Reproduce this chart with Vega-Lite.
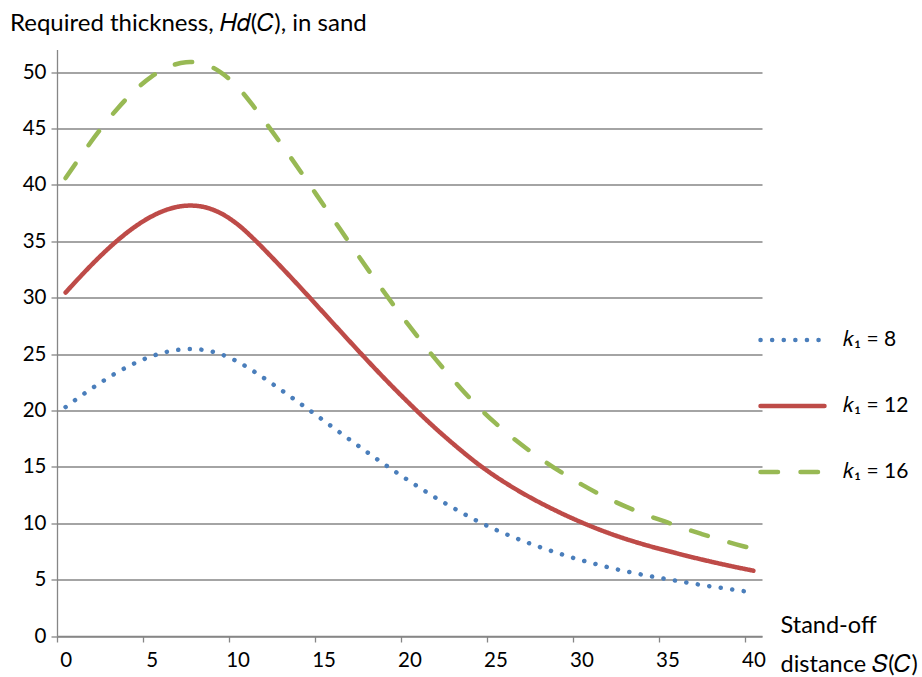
{
  "$schema": "https://vega.github.io/schema/vega-lite/v6.json",
  "autosize": "none",
  "padding": {"left": 57, "top": 49.5, "right": 160, "bottom": 41},
  "width": 705,
  "height": 586.5,
  "config": {"view": {"stroke": null}, "font": "Lato"},
  "title": {"text": "Required thickness, \uD835\uDC3B\uD835\uDC51(\uD835\uDC36), in sand", "anchor": "start", "frame": "group", "dx": -47, "offset": 14, "fontSize": 24, "fontWeight": "normal", "font": "Lato", "color": "#000000"},
  "data": {"values": [
    {"s":0,"k":8,"h":20.3},{"s":1,"k":8,"h":21.4},{"s":2,"k":8,"h":22.43},{"s":3,"k":8,"h":23.37},{"s":4,"k":8,"h":24.17},{"s":5,"k":8,"h":24.8},{"s":6,"k":8,"h":25.23},{"s":7,"k":8,"h":25.43},{"s":8,"k":8,"h":25.37},{"s":9,"k":8,"h":25.0},{"s":10,"k":8,"h":24.33},{"s":11,"k":8,"h":23.41},{"s":12,"k":8,"h":22.38},{"s":13,"k":8,"h":21.31},{"s":14,"k":8,"h":20.22},{"s":15,"k":8,"h":19.11},{"s":16,"k":8,"h":17.99},{"s":17,"k":8,"h":16.89},{"s":18,"k":8,"h":15.8},{"s":19,"k":8,"h":14.75},{"s":20,"k":8,"h":13.73},{"s":21,"k":8,"h":12.75},{"s":22,"k":8,"h":11.83},{"s":23,"k":8,"h":10.97},{"s":24,"k":8,"h":10.15},{"s":25,"k":8,"h":9.43},{"s":26,"k":8,"h":8.79},{"s":27,"k":8,"h":8.2},{"s":28,"k":8,"h":7.67},{"s":29,"k":8,"h":7.17},{"s":30,"k":8,"h":6.72},{"s":31,"k":8,"h":6.31},{"s":32,"k":8,"h":5.93},{"s":33,"k":8,"h":5.6},{"s":34,"k":8,"h":5.3},{"s":35,"k":8,"h":5.03},{"s":36,"k":8,"h":4.77},{"s":37,"k":8,"h":4.52},{"s":38,"k":8,"h":4.29},{"s":39,"k":8,"h":4.07},{"s":40,"k":8,"h":3.86},
    {"s":0,"k":12,"h":30.45},{"s":1,"k":12,"h":32.1},{"s":2,"k":12,"h":33.65},{"s":3,"k":12,"h":35.05},{"s":4,"k":12,"h":36.25},{"s":5,"k":12,"h":37.2},{"s":6,"k":12,"h":37.85},{"s":7,"k":12,"h":38.15},{"s":8,"k":12,"h":38.05},{"s":9,"k":12,"h":37.5},{"s":10,"k":12,"h":36.5},{"s":11,"k":12,"h":35.12},{"s":12,"k":12,"h":33.57},{"s":13,"k":12,"h":31.97},{"s":14,"k":12,"h":30.33},{"s":15,"k":12,"h":28.66},{"s":16,"k":12,"h":26.99},{"s":17,"k":12,"h":25.33},{"s":18,"k":12,"h":23.7},{"s":19,"k":12,"h":22.12},{"s":20,"k":12,"h":20.6},{"s":21,"k":12,"h":19.13},{"s":22,"k":12,"h":17.75},{"s":23,"k":12,"h":16.45},{"s":24,"k":12,"h":15.23},{"s":25,"k":12,"h":14.15},{"s":26,"k":12,"h":13.18},{"s":27,"k":12,"h":12.3},{"s":28,"k":12,"h":11.5},{"s":29,"k":12,"h":10.76},{"s":30,"k":12,"h":10.08},{"s":31,"k":12,"h":9.46},{"s":32,"k":12,"h":8.9},{"s":33,"k":12,"h":8.4},{"s":34,"k":12,"h":7.95},{"s":35,"k":12,"h":7.55},{"s":36,"k":12,"h":7.15},{"s":37,"k":12,"h":6.78},{"s":38,"k":12,"h":6.43},{"s":39,"k":12,"h":6.1},{"s":40,"k":12,"h":5.79},
    {"s":0,"k":16,"h":40.6},{"s":1,"k":16,"h":42.8},{"s":2,"k":16,"h":44.87},{"s":3,"k":16,"h":46.73},{"s":4,"k":16,"h":48.33},{"s":5,"k":16,"h":49.6},{"s":6,"k":16,"h":50.47},{"s":7,"k":16,"h":50.87},{"s":8,"k":16,"h":50.73},{"s":9,"k":16,"h":50.0},{"s":10,"k":16,"h":48.67},{"s":11,"k":16,"h":46.83},{"s":12,"k":16,"h":44.76},{"s":13,"k":16,"h":42.63},{"s":14,"k":16,"h":40.44},{"s":15,"k":16,"h":38.21},{"s":16,"k":16,"h":35.99},{"s":17,"k":16,"h":33.77},{"s":18,"k":16,"h":31.6},{"s":19,"k":16,"h":29.49},{"s":20,"k":16,"h":27.47},{"s":21,"k":16,"h":25.51},{"s":22,"k":16,"h":23.67},{"s":23,"k":16,"h":21.93},{"s":24,"k":16,"h":20.31},{"s":25,"k":16,"h":18.87},{"s":26,"k":16,"h":17.57},{"s":27,"k":16,"h":16.4},{"s":28,"k":16,"h":15.33},{"s":29,"k":16,"h":14.35},{"s":30,"k":16,"h":13.44},{"s":31,"k":16,"h":12.61},{"s":32,"k":16,"h":11.87},{"s":33,"k":16,"h":11.2},{"s":34,"k":16,"h":10.6},{"s":35,"k":16,"h":10.07},{"s":36,"k":16,"h":9.53},{"s":37,"k":16,"h":9.04},{"s":38,"k":16,"h":8.57},{"s":39,"k":16,"h":8.13},{"s":40,"k":16,"h":7.72}
  ]},
  "mark": {"type": "line", "strokeWidth": 4.5, "strokeCap": "round", "strokeJoin": "round", "interpolate": "catmull-rom"},
  "encoding": {
    "x": {"field": "s", "type": "quantitative",
      "scale": {"domain": [-0.5, 40.5], "nice": false, "zero": false},
      "axis": {"values": [-0.5, 4.5, 9.5, 14.5, 19.5, 24.5, 29.5, 34.5, 39.5],
        "labelExpr": "format(datum.value + 0.5, 'd')", "labelOffset": 8.6, "labelOverlap": false, "labelFlush": false, "labelBound": false,
        "grid": false, "domainColor": "#868686", "domainWidth": 1.3, "tickColor": "#868686", "tickWidth": 1.3, "tickSize": 6,
        "labelFontSize": 20.5, "labelColor": "#000000", "labelPadding": 8, "labelFont": "Lato",
        "title": ["Stand-off", "distance \uD835\uDC46(\uD835\uDC36)"], "titleX": 723, "titleY": -4, "titleAlign": "left", "titleAnchor": null, "titleBaseline": "alphabetic", "titleAngle": 0,
        "titleFontSize": 23.5, "titleFontWeight": "normal", "titleColor": "#000000", "titleFont": "Lato", "titleLineHeight": 39}},
    "y": {"field": "h", "type": "quantitative",
      "scale": {"domain": [0, 52], "nice": false},
      "axis": {"values": [0, 5, 10, 15, 20, 25, 30, 35, 40, 45, 50], "title": null,
        "grid": true, "gridColor": "#868686", "gridWidth": 1.3,
        "domainColor": "#868686", "domainWidth": 1.3, "tickColor": "#868686", "tickWidth": 1.3, "tickSize": 6,
        "labelFontSize": 20.5, "labelColor": "#000000", "labelPadding": 5, "labelFont": "Lato"}},
    "color": {"field": "k", "type": "nominal",
      "scale": {"domain": [8, 12, 16], "range": ["#4A7EBB", "#BE4B48", "#98B954"]},
      "legend": {"orient": "none", "legendX": 701, "legendY": 256, "title": null, "padding": 0,
        "symbolType": "stroke", "symbolSize": 4096, "symbolStrokeWidth": 4.5, "rowPadding": 21, "labelOffset": 16,
        "labelFontSize": 21, "labelColor": "#000000", "labelFont": "Lato",
        "labelExpr": "'\uD835\uDC58\u2081 = ' + datum.label",
        "encode": {"symbols": {"update": {"strokeCap": {"value": "round"}}}}}},
    "strokeDash": {"field": "k", "type": "nominal",
      "scale": {"domain": [8, 12, 16], "range": [[0.1, 11.5], [1, 0], [17.5, 22.5]]},
      "legend": null}
  }
}
